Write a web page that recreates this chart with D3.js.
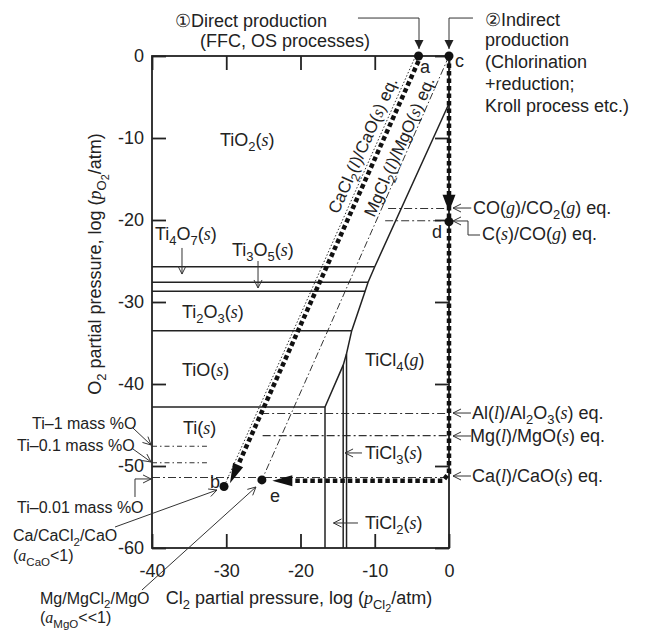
<!DOCTYPE html>
<html lang="en">
<head>
<meta charset="UTF-8" />
<title>Ti–O–Cl potential diagram</title>
<script src="https://d3js.org/d3.v7.min.js"></script>
<style>
  body { margin: 0; background: #fff; }
  svg { display: block; }
  text { font-family: "Liberation Sans", Arial, sans-serif; fill: #222; white-space: pre; }
</style>
</head>
<body>
<div id="chart"></div>
<script>
// axis ticks
const xTicks = [-40, -30, -20, -10, 0];
const yTicks = [0, -10, -20, -30, -40, -50, -60];

// oxide/oxide boundaries: log pO2, and log pCl2 where they hit the chloride field
const oxideLogO2 = [-25.7, -27.6, -28.7, -33.5, -42.8];
const oxideEndCl2 = [-10.0, -10.9, -11.3, -13.1, -16.7];

// oxide/chloride boundary (TiO2, Ti4O7, Ti3O5, Ti2O3, TiO | TiCl4, TiCl3, TiCl2)
const boundCl2 = [0, -10.0, -10.9, -11.3, -13.1, -13.8, -14.25, -16.7];
const boundO2 = [-5.8, -25.7, -27.6, -28.7, -33.5, -36.3, -37.7, -42.8];

// chloride/chloride boundaries (vertical): Ti/TiCl2, TiCl2/TiCl3, TiCl3/TiCl4
const vertCl2 = [-16.7, -14.25, -13.8];
const vertTopO2 = [-42.8, -37.7, -36.3];

// horizontal equilibria: CO/CO2, C/CO, Al/Al2O3, Mg/MgO, Ca/CaO (= Ti-0.01 %O), Ti-1 %O, Ti-0.1 %O
const eqLogO2 = [-18.6, -20.1, -43.6, -46.3, -51.4, -47.6, -49.6];
const eqFrom = [-8.2, -8.6, -25.3, -25.1, -40, -40, -40];
const eqTo = [0, 0, 0, 0, 0, -32.6, -32.6];

// diagonal equilibria
const caLine = [[-4.5, 0], [-30.3, -52.5]];   // CaCl2(l)/CaO(s)
const mgLine = [[0, 0], [-25.2, -51.7]];      // MgCl2(l)/MgO(s)

// key points
const ptNames = ["a", "b", "c", "d", "e"];
const ptCl2 = [-4.1, -30.3, 0, 0, -25.2];
const ptO2 = [0, -52.5, 0, -20.2, -51.7];
const ptLabelCl2 = [-3.9, -32.2, 0.8, -2.3, -24.1];
const ptLabelO2 = [-2.07, -52.68, -1.34, -22.2, -54.39];

// production routes
const route1 = [[-4.1, -0.6], [-29.5, -52.1]];
const route2 = [[0, 0], [0, -50.85], [-0.8, -51.8], [-23.8, -51.8]];
const route2MidTipO2 = -19.0;

// labels: markup, log pCl2, log pO2, font size
const labels = [
  ["TiO_{2}(*s*)", -30.84, -10.98, 18],
  ["Ti_{4}O_{7}(*s*)", -39.6, -22.44, 18],
  ["Ti_{3}O_{5}(*s*)", -29.23, -24.39, 18],
  ["Ti_{2}O_{3}(*s*)", -35.96, -31.95, 18],
  ["TiO(*s*)", -35.96, -39.02, 18],
  ["Ti(*s*)", -35.83, -46.1, 18],
  ["TiCl_{4}(*g*)", -11.31, -37.8, 18],
  ["TiCl_{3}(*s*)", -11.31, -49.15, 18],
  ["TiCl_{2}(*s*)", -11.31, -57.68, 18],
  ["CO(*g*)/CO_{2}(*g*) eq.", 3.23, -19.27, 18],
  ["C(*s*)/CO(*g*) eq.", 4.44, -22.44, 18],
  ["Al(*l*)/Al_{2}O_{3}(*s*) eq.", 3.1, -44.27, 18],
  ["Mg(*l*)/MgO(*s*) eq.", 2.83, -47.07, 18],
  ["Ca(*l*)/CaO(*s*) eq.", 3.1, -51.95, 18],
  ["Ti–1 mass %O", -56.16, -45.49, 16],
  ["Ti–0.1 mass %O", -58.18, -48.17, 16],
  ["Ti–0.01 mass %O", -58.18, -55.73, 16],
  ["Ca/CaCl_{2}/CaO", -58.72, -59.15, 16],
  ["(*a*_{CaO}<1)", -58.72, -61.6, 16],
  ["Mg/MgCl_{2}/MgO", -55.08, -66.83, 16],
  ["(*a*_{MgO}<<1)", -55.08, -69.15, 16],
  ["①Direct production", -36.9, 3.54, 18],
  ["(FFC, OS processes)", -33.54, 1.1, 18],
  ["②Indirect", 4.85, 3.6, 18],
  ["production", 4.85, 1.2, 18],
  ["(Chlorination", 4.85, -1.46, 18],
  ["+reduction;", 4.85, -4.15, 18],
  ["Kroll process etc.)", 4.85, -6.83, 18]
];

// leader arrows (last point is the tip); kind: "open" or "fill"
const leaders = [
  [[[-12.26, 4.63], [-4.04, 4.63], [-4.04, 0.85]], "fill"],
  [[[3.23, 4.63], [0, 4.63], [0, 0.85]], "fill"],
  [[[-35.96, -23.41], [-35.96, -26.59]], "open"],
  [[[-25.72, -25.0], [-25.72, -28.29]], "open"],
  [[[-11.72, -48.41], [-14.0, -48.41]], "open"],
  [[[-12.26, -56.95], [-15.56, -56.95]], "open"],
  [[[3.0, -18.54], [0.54, -18.54]], "open"],
  [[[4.18, -21.83], [2.56, -21.83], [2.56, -20.12], [0.54, -20.12]], "open"],
  [[[2.96, -43.54], [0.54, -43.54]], "open"],
  [[[2.96, -46.34], [0.54, -46.34]], "open"],
  [[[2.96, -51.22], [0.54, -51.22]], "open"],
  [[[-42.56, -45.37], [-40.13, -47.44]], "open"],
  [[[-42.56, -47.93], [-40.13, -49.51]], "open"],
  [[[-42.29, -53.78], [-42.29, -51.58], [-40.13, -51.58]], "open"],
  [[[-44.98, -57.44], [-31.25, -52.93]], "open"],
  [[[-41.35, -65.12], [-26.0, -52.56]], "open"]
];

const W = 650, H = 631;
const SERIF = '"Liberation Serif", "Times New Roman", serif';
const INK = "#222";

const x = d3.scaleLinear().domain([-40, 0]).range([152, 449]);
const y = d3.scaleLinear().domain([-60, 0]).range([548, 56]);
const P = d => [x(d[0]), y(d[1])];
const line = d3.line().x(d => x(d[0])).y(d => y(d[1]));

const svg = d3.select("#chart").append("svg")
  .attr("width", W).attr("height", H)
  .style("background", "#fff");

// small markup: *italic*, _{subscript}
function parseRich(s, lvl, it, out) {
  let buf = "", i = 0;
  const flush = () => { if (buf) out.push({ t: buf, lvl, it }); buf = ""; };
  while (i < s.length) {
    const c = s[i];
    if (c === "*") { flush(); it = !it; i++; }
    else if (c === "_" && s[i + 1] === "{") {
      flush();
      let depth = 1, j = i + 2;
      while (depth > 0) { if (s[j] === "{") depth++; if (s[j] === "}") depth--; j++; }
      parseRich(s.slice(i + 2, j - 1), lvl + 1, false, out);
      i = j;
    } else { buf += c; i++; }
  }
  flush();
  return out;
}

function rich(t, s, fs) {
  let shift = 0;
  parseRich(s, 0, false, []).forEach(seg => {
    const off = [0, 0.28, 0.45][seg.lvl] * fs;
    const size = [1, 0.72, 0.6][seg.lvl] * fs;
    const ts = t.append("tspan").attr("dy", off - shift).attr("font-size", size).text(seg.t);
    if (seg.it) ts.attr("font-family", SERIF).attr("font-style", "italic");
    shift = off;
  });
  return t;
}

function head(tip, from, len, hw) {
  const dx = tip[0] - from[0], dy = tip[1] - from[1];
  const L = Math.hypot(dx, dy), ux = dx / L, uy = dy / L;
  const bx = tip[0] - ux * len, by = tip[1] - uy * len;
  return [[bx - uy * hw, by + ux * hw], tip, [bx + uy * hw, by - ux * hw]];
}

// thin diagonal equilibria
svg.append("path").attr("d", line(caLine))
  .attr("fill", "none").attr("stroke", "#333").attr("stroke-width", 1)
  .attr("stroke-dasharray", "1.5,2");
svg.append("path").attr("d", line(mgLine))
  .attr("fill", "none").attr("stroke", "#333").attr("stroke-width", 1)
  .attr("stroke-dasharray", "7,2.5,1.5,2.5");

// horizontal equilibria
eqLogO2.forEach((v, i) => {
  svg.append("path").attr("d", line([[eqFrom[i], v], [eqTo[i], v]]))
    .attr("fill", "none").attr("stroke", "#333").attr("stroke-width", 1.1)
    .attr("stroke-dasharray", i >= 5 ? "5,3,1.5,3" : "8,3,2,3");
});

// phase boundaries
const boundary = svg.append("g").attr("fill", "none").attr("stroke", INK).attr("stroke-width", 1.5);
oxideLogO2.forEach((v, i) => boundary.append("path").attr("d", line([[-40, v], [oxideEndCl2[i], v]])));
boundary.append("path").attr("d", line(boundCl2.map((c, i) => [c, boundO2[i]])));
vertCl2.forEach((c, i) => boundary.append("path").attr("d", line([[c, vertTopO2[i]], [c, -60]])));

// frame + inward ticks
svg.append("rect")
  .attr("x", x(-40)).attr("y", y(0))
  .attr("width", x(0) - x(-40)).attr("height", y(-60) - y(0))
  .attr("fill", "none").attr("stroke", INK).attr("stroke-width", 1.8);

function styleAxis(g) {
  g.select(".domain").remove();
  g.attr("font-size", 18).attr("color", INK);
  g.selectAll(".tick line").attr("stroke-width", 1.8);
}
svg.append("g").attr("transform", `translate(${x(-40)},0)`)
  .call(d3.axisLeft(y).tickValues(yTicks).tickSizeInner(-14).tickSizeOuter(0).tickPadding(8).tickFormat(d => String(d)))
  .call(styleAxis);
svg.append("g").attr("transform", `translate(${x(0)},0)`)
  .call(d3.axisRight(y).tickValues(yTicks).tickSizeInner(-14).tickSizeOuter(0).tickFormat(""))
  .call(styleAxis);
svg.append("g").attr("transform", `translate(0,${y(0)})`)
  .call(d3.axisTop(x).tickValues(xTicks).tickSizeInner(-14).tickSizeOuter(0).tickFormat(""))
  .call(styleAxis);
svg.append("g").attr("transform", `translate(0,${y(-60)})`)
  .call(d3.axisBottom(x).tickValues(xTicks).tickSizeInner(-14).tickSizeOuter(0).tickPadding(16.5).tickFormat(d => String(d)))
  .call(styleAxis);

// production routes (thick dotted)
const thick = g => g.attr("fill", "none").attr("stroke", "#111").attr("stroke-width", 4.5).attr("stroke-dasharray", "4.5,3");

const r1a = P(route1[0]), r1b = P(route1[1]);
const h1 = head(r1b, r1a, 20, 5.5);
const b1 = [(h1[0][0] + h1[2][0]) / 2, (h1[0][1] + h1[2][1]) / 2];
svg.append("path").attr("d", d3.line()([r1a, b1])).call(thick);
svg.append("path").attr("d", d3.line()(h1) + "Z").attr("fill", "#111");

const r2 = route2.map(P);
const tip2 = r2[r2.length - 1], prev2 = r2[r2.length - 2];
const h2 = head(tip2, prev2, 20, 5.5);
const b2 = [(h2[0][0] + h2[2][0]) / 2, (h2[0][1] + h2[2][1]) / 2];
svg.append("path").attr("d", d3.line()([...r2.slice(0, -1), b2])).call(thick);
svg.append("path").attr("d", d3.line()(h2) + "Z").attr("fill", "#111");
const midTip = P([0, route2MidTipO2]);
svg.append("path").attr("d", d3.line()(head(midTip, P([0, 0]), 17, 6.5)) + "Z").attr("fill", "#111");

// key points
ptNames.forEach((n, i) => {
  svg.append("circle").attr("cx", x(ptCl2[i])).attr("cy", y(ptO2[i])).attr("r", 4.5).attr("fill", "#111");
  svg.append("text").attr("x", x(ptLabelCl2[i])).attr("y", y(ptLabelO2[i])).attr("font-size", 18).text(n);
});

// leaders
leaders.forEach(([pts, kind]) => {
  const px = pts.map(P);
  svg.append("path").attr("d", d3.line()(px)).attr("fill", "none").attr("stroke", "#333").attr("stroke-width", 1);
  const tip = px[px.length - 1], from = px[px.length - 2];
  if (kind === "fill") {
    svg.append("path").attr("d", d3.line()(head(tip, from, 9, 4.5)) + "Z").attr("fill", "#222");
  } else {
    svg.append("path").attr("d", d3.line()(head(tip, from, 8, 4)))
      .attr("fill", "none").attr("stroke", "#333").attr("stroke-width", 1);
  }
});

// labels
labels.forEach(([s, c, o, fs]) => {
  rich(svg.append("text").attr("x", x(c)).attr("y", y(o)).attr("font-size", fs), s, fs);
});

// labels along the diagonal equilibria
[["CaCl_{2}(*l*)/CaO(*s*) eq.", caLine, -11.5, 6], ["MgCl_{2}(*l*)/MgO(*s*) eq.", mgLine, -11.5, 3]]
  .forEach(([s, seg, atO2, off]) => {
    const p0 = P(seg[0]), p1 = P(seg[1]);
    const t = (y(atO2) - p0[1]) / (p1[1] - p0[1]);
    const cx = p0[0] + t * (p1[0] - p0[0]), cy = y(atO2);
    const ang = Math.atan2(p0[1] - p1[1], p0[0] - p1[0]) * 180 / Math.PI;
    rich(svg.append("text").attr("text-anchor", "middle").attr("font-size", 17)
      .attr("transform", `translate(${cx},${cy}) rotate(${ang}) translate(0,${-off})`), s, 17);
  });

// axis titles
rich(svg.append("text").attr("text-anchor", "middle").attr("font-size", 18)
  .attr("x", x(-20.2)).attr("y", y(-66.83)),
  "Cl_{2} partial pressure, log (*p*_{Cl_{2}}/atm)", 18);
rich(svg.append("text").attr("text-anchor", "middle").attr("font-size", 18)
  .attr("transform", `translate(${x(-46.87)},${y(-25.37)}) rotate(-90)`),
  "O_{2} partial pressure, log (*p*_{O_{2}}/atm)", 18);
</script>
</body>
</html>
